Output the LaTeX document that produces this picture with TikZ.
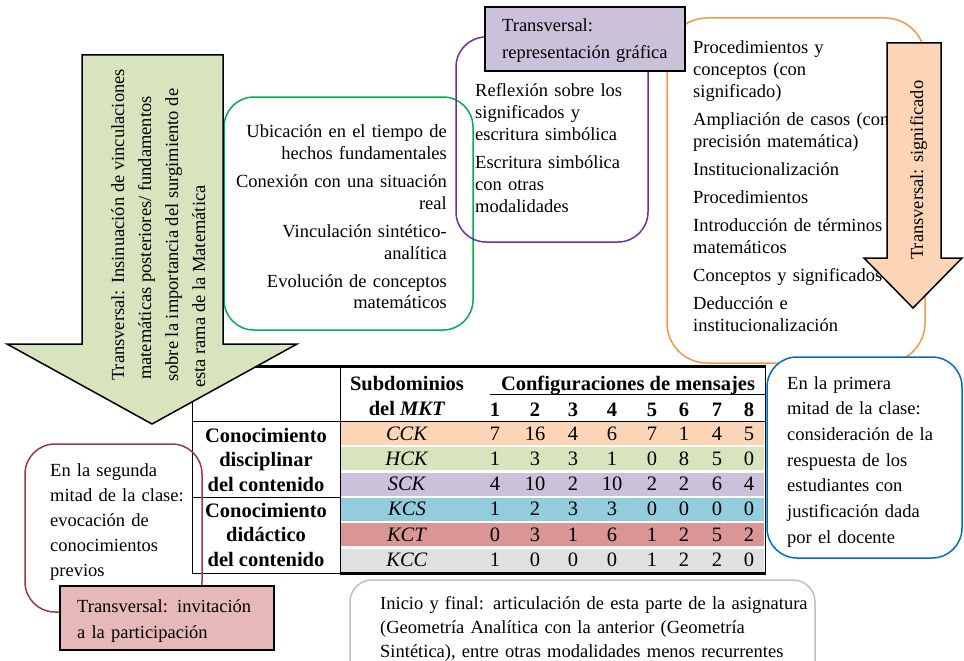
\documentclass[tikz,border=0pt]{standalone}
\usepackage{fontspec}
\setmainfont{Liberation Serif}
\definecolor{gfill}{HTML}{D7E4BD}
\definecolor{pfill}{HTML}{FBD5B5}
\definecolor{lfill}{HTML}{CCC1DA}
\definecolor{cfill}{HTML}{93CDDD}
\definecolor{rfill}{HTML}{DA9694}
\definecolor{kfill}{HTML}{E0E0E0}
\definecolor{rlab}{HTML}{E6B9B8}
\definecolor{gline}{HTML}{00B050}
\definecolor{vline}{HTML}{7030A0}
\definecolor{oline}{HTML}{F79646}
\definecolor{bline}{HTML}{0070C0}
\definecolor{rline}{HTML}{9B3B3B}
\definecolor{kline}{HTML}{BFBFBF}
\begin{document}
\begin{tikzpicture}[x=1pt,y=-1pt,
  txt/.style={font=\fontsize{18.5}{22}\selectfont, inner sep=0pt, text width=300pt},
  rot/.style={font=\fontsize{18.5}{22}\selectfont, inner sep=0pt, rotate=90, anchor=base west},
  tbn/.style={font=\fontsize{20.5}{24.5}\selectfont, inner sep=0pt, anchor=base},
  tbb/.style={font=\fontsize{20.5}{24.5}\selectfont\bfseries, inner sep=0pt, anchor=base},
  boxline/.style={line width=1.5pt, rounded corners=30pt},
  arrowshape/.style={draw=black, line width=1.5pt, line join=miter},
  labelbox/.style={draw=black, line width=1.5pt}
]
\clip (0,0) rectangle (964,661);
\fill[white] (0,0) rectangle (964,661);

% bottom gray box
\draw[kline, boxline, rounded corners=22pt] (350,580) rectangle (815,700);
\node[txt, align=left, anchor=base west, text width=460pt, font=\fontsize{18.5}{24}\selectfont] (grayt) at (380,609)
  {Inicio y final: articulación de esta parte de la asignatura\\(Geometría Analítica con la anterior (Geometría\\Sintética), entre otras modalidades menos recurrentes};

% table fills
\foreach \cl [count=\ri from 0] in {pfill,gfill,lfill,cfill,rfill,kfill}
  \fill[\cl] (341,{422+25.3*\ri}) rectangle (764,{421+25.3*\ri+24});
% table lines
\draw[line width=0.8pt] (192,366) -- (192,573);
\draw[line width=0.8pt] (340,366) -- (340,573);
\draw[line width=0.8pt] (765,366) -- (765,573);
\draw[line width=0.8pt] (192,421) -- (765,421);
\draw[line width=0.8pt] (192,497) -- (340,497);
\draw[line width=0.8pt] (192,573) -- (340,573);
\draw[line width=0.8pt] (490,394) -- (765,394);
\draw[line width=3pt] (192,366) -- (766,366);
\draw[line width=3pt] (340,573) -- (766,573);
% table header
\node[tbb] (h1) at (407,390) {Subdominios};
\node[tbb] (h2) at (407,415) {del \textit{MKT}};
\node[tbb] (h3) at (628,390) {Configuraciones de mensajes};
\foreach \n/\xx in {1/495,2/535,3/573,4/612,5/652,6/684,7/717,8/749}
  \node[tbb] (n\n) at (\xx,416) {\n};
% first column
\node[tbb] (g1a) at (266,442) {Conocimiento};
\node[tbb] (g1b) at (266,466.5) {disciplinar};
\node[tbb] (g1c) at (266,491) {del contenido};
\node[tbb] (g2a) at (266,517) {Conocimiento};
\node[tbb] (g2b) at (266,541.5) {didáctico};
\node[tbb] (g2c) at (266,566) {del contenido};
% subdomains
\foreach \lab [count=\ri from 0] in {CCK,HCK,SCK,KCS,KCT,KCC}
  \node[tbn] (s\ri) at (407,{440+25.3*\ri}) {\textit{\lab}};
% values
\foreach \row [count=\ri from 0] in {{7,16,4,6,7,1,4,5},{1,3,3,1,0,8,5,0},{4,10,2,10,2,2,6,4},{1,2,3,3,0,0,0,0},{0,3,1,6,1,2,5,2},{1,0,0,0,1,2,2,0}}{
  \foreach \v [count=\ci from 0] in \row {
    \pgfmathsetmacro\xx{{495,535,573,612,652,684,717,749}[\ci]}
    \node[tbn] (d\ri-\ci) at (\xx,{440+25.3*\ri}) {\v};
  }
}

% green box
\draw[gline, boxline] (224,97) rectangle (473,330);
\node[txt, align=right, anchor=base east, text width=260pt] (gt) at (447,137)
  {Ubicación en el tiempo de\\hechos fundamentales\\[6pt]Conexión con una situación\\real\\[6pt]Vinculación sintético-\\analítica\\[6pt]Evolución de conceptos\\matemáticos};

% purple box
\draw[vline, boxline] (456,37) rectangle (648,242);
\node[txt, align=left, anchor=base west] (pt) at (475,96)
  {Reflexión sobre los\\significados y\\escritura simbólica\\[6pt]Escritura simbólica\\con otras\\modalidades};

% orange box
\draw[oline, boxline, rounded corners=40pt] (667,18) rectangle (925,363);
\node[txt, align=left, anchor=base west] (ot) at (693,54)
  {Procedimientos y\\conceptos (con\\significado)\\[6pt]Ampliación de casos (con\\precisión matemática)\\[6pt]Institucionalización\\[6pt]Procedimientos\\[6pt]Introducción de términos\\matemáticos\\[6pt]Conceptos y significados\\[6pt]Deducción e\\institucionalización};

% orange arrow
\draw[arrowshape, fill=pfill] (887,43) -- (941,43) -- (941,258) -- (962,258) -- (913,308) -- (864,258) -- (887,258) -- cycle;
\node[rot] (oat) at (923,260) {Transversal: significado};

% purple label
\draw[labelbox, fill=lfill] (485,7) rectangle (685,71);
\node[txt, align=left, anchor=base west, font=\fontsize{18.5}{27}\selectfont] (plt) at (502,32)
  {Transversal:\\representación gráfica};

% green arrow
\draw[arrowshape, fill=gfill] (82,55) -- (223,55) -- (223,344) -- (297,344) -- (152,424) -- (7,344) -- (82,344) -- cycle;
\node[rot] (ga1) at (124,381) {Transversal: Insinuación de vinculaciones};
\node[rot] (ga2) at (151,380) {matemáticas posteriores/ fundamentos};
\node[rot] (ga3) at (178,382) {sobre la importancia del surgimiento de};
\node[rot] (ga4) at (205,388) {esta rama de la Matemática};

% red box
\draw[rline, boxline] (25,444) rectangle (202,612);
\node[txt, align=left, anchor=base west, font=\fontsize{18.5}{25}\selectfont] (rt) at (50,476)
  {En la segunda\\mitad de la clase:\\evocación de\\conocimientos\\previos};
\draw[labelbox, fill=rlab] (60,586) rectangle (274,650);
\node[txt, align=left, anchor=base west, font=\fontsize{18.5}{26}\selectfont] (rlt) at (77,612)
  {Transversal: invitación\\a la participación};

% blue box
\draw[bline, boxline, fill=white] (767,357) rectangle (962,558);
\node[txt, align=left, anchor=base west, font=\fontsize{18.5}{25.7}\selectfont] (bt) at (787,389)
  {En la primera\\mitad de la clase:\\consideración de la\\respuesta de los\\estudiantes con\\justificación dada\\por el docente};
\end{tikzpicture}
\end{document}
